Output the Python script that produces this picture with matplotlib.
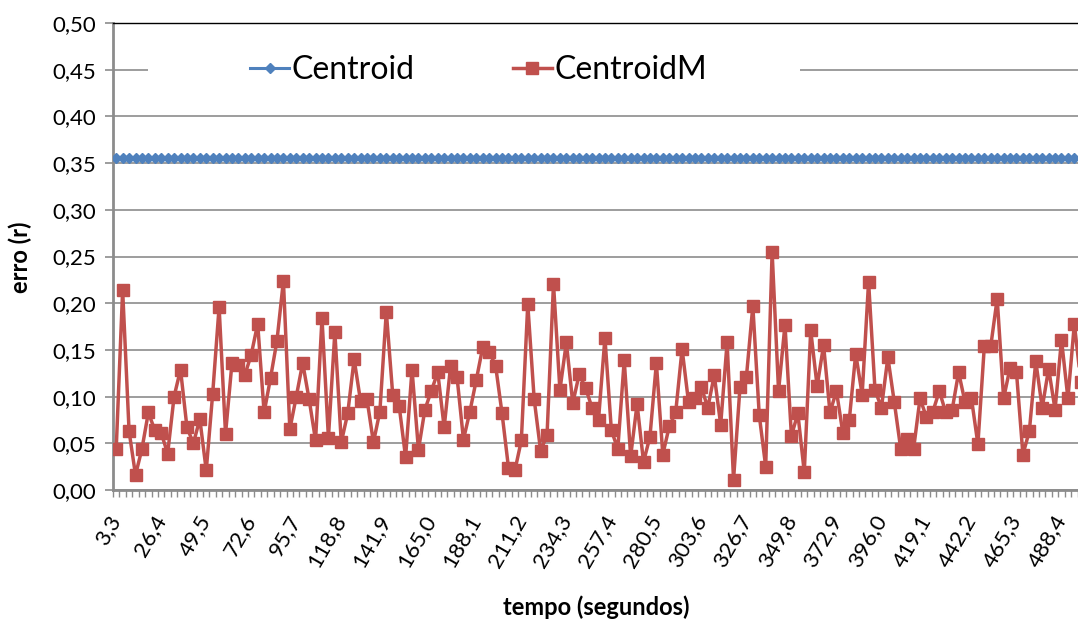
import numpy as np
import matplotlib
matplotlib.use("Agg")
import matplotlib.pyplot as plt
from matplotlib.patches import Rectangle

plt.rcParams['font.family'] = ['Lato', 'DejaVu Sans']

centroid_m = [0.044, 0.214, 0.063, 0.016, 0.044, 0.083, 0.064, 0.061, 0.039, 0.100,
              0.129, 0.067, 0.050, 0.076, 0.021, 0.103, 0.196, 0.060, 0.136, 0.134,
              0.123, 0.145, 0.178, 0.083, 0.120, 0.160, 0.224, 0.065, 0.100, 0.136,
              0.097, 0.053, 0.184, 0.056, 0.169, 0.051, 0.082, 0.140, 0.095, 0.097,
              0.051, 0.084, 0.191, 0.102, 0.090, 0.035, 0.129, 0.043, 0.086, 0.106,
              0.126, 0.067, 0.133, 0.121, 0.054, 0.084, 0.118, 0.153, 0.148, 0.133,
              0.082, 0.024, 0.021, 0.053, 0.199, 0.097, 0.042, 0.059, 0.221, 0.107,
              0.158, 0.093, 0.124, 0.109, 0.088, 0.075, 0.163, 0.064, 0.044, 0.139,
              0.036, 0.092, 0.030, 0.057, 0.136, 0.038, 0.068, 0.083, 0.151, 0.094,
              0.098, 0.110, 0.088, 0.123, 0.070, 0.158, 0.011, 0.110, 0.121, 0.197,
              0.080, 0.025, 0.255, 0.106, 0.177, 0.058, 0.082, 0.019, 0.171, 0.111,
              0.155, 0.083, 0.106, 0.061, 0.075, 0.146, 0.102, 0.223, 0.107, 0.088,
              0.142, 0.094, 0.044, 0.055, 0.044, 0.098, 0.078, 0.084, 0.106, 0.083,
              0.086, 0.126, 0.094, 0.098, 0.049, 0.154, 0.154, 0.205, 0.098, 0.131,
              0.126, 0.038, 0.063, 0.138, 0.088, 0.130, 0.086, 0.161, 0.098, 0.178,
              0.116]
n = len(centroid_m)
centroid = [0.355] * n
tempo = np.round(np.arange(1, n + 1) * 3.3, 1)
yticks = [0.0, 0.05, 0.10, 0.15, 0.20, 0.25, 0.30, 0.35, 0.40, 0.45, 0.50]

blue = '#4F81BD'
red = '#C0504D'
grid = '#8C8C8C'

fig = plt.figure(figsize=(10.78, 6.19), dpi=100)
ax = fig.add_axes([113 / 1078, 1 - 490 / 619, 971 / 1078, 467 / 619])

x = np.arange(n)
ax.plot(x, centroid, color=blue, lw=2.2, marker='D', ms=5.5,
        mec=blue, mfc=blue, zorder=4, label='Centroid')
ax.plot(x, centroid_m, color=red, lw=2.5, marker='s', ms=8.5,
        mec=red, mfc=red, zorder=5, label='CentroidM')

ax.set_xlim(-0.5, n - 0.5)
ax.set_ylim(0, 0.5)
ax.set_yticks(yticks)
ax.set_yticklabels([f"{v:.2f}".replace('.', ',') for v in yticks], fontsize=16)
ax.yaxis.grid(True, color=grid, lw=1.2, zorder=0)
ax.set_axisbelow(True)

# rotulos a cada 7 categorias, marcas entre categorias
lab_idx = x[::7]
ax.set_xticks(lab_idx)
ax.set_xticklabels([f"{tempo[i]:.1f}".replace('.', ',') for i in lab_idx],
                   rotation=60, ha='right', va='center', rotation_mode='anchor',
                   fontsize=16)
ax.set_xticks(np.arange(n + 1) - 0.5, minor=True)
ax.tick_params(axis='x', which='major', length=0, pad=19)
ax.tick_params(axis='x', which='minor', length=5, color=grid, width=1)
ax.tick_params(axis='y', length=6, color=grid, width=1.2, pad=6)

for s in ['left', 'bottom']:
    ax.spines[s].set_color(grid)
    ax.spines[s].set_linewidth(2)
ax.spines['top'].set_color('black')
ax.spines['top'].set_linewidth(1)
ax.spines['right'].set_visible(False)

# fundo branco da legenda (interrompe a grade em 0,45)
ax.add_patch(Rectangle((35 / 971, 0.86), 652 / 971, 0.08, transform=ax.transAxes,
                       facecolor='white', edgecolor='none', zorder=1))
leg = ax.legend(loc='center', bbox_to_anchor=(0.3765, 0.9),
                ncol=2, frameon=False, fontsize=23, handlelength=1.2,
                columnspacing=3.1, handletextpad=0.08)

fig.text(20 / 1078, 1 - 257 / 619, 'erro (r)', rotation=90, ha='center',
         va='center', fontsize=17, fontweight='bold')
fig.text(596 / 1078, 1 - 607 / 619, 'tempo (segundos)', ha='center',
         va='center', fontsize=17, fontweight='bold')

fig.savefig('out.png', dpi=100)
